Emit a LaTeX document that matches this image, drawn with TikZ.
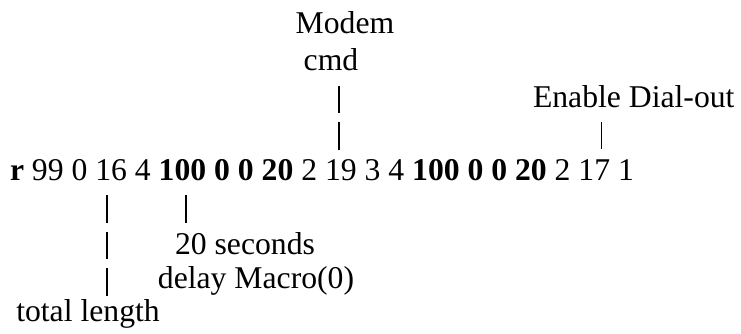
\documentclass[tikz,border=0pt]{standalone}
\usepackage{fontspec}
\setmainfont{Liberation Serif}
\usetikzlibrary{positioning}
\begin{document}
\fontsize{31.8}{36}\selectfont
\begin{tikzpicture}[x=1bp,y=-1bp,line cap=butt]
\tikzset{word/.style={inner sep=0pt,outer sep=0pt},
	pipe/.style={line width=1.4bp,dash pattern=on 27.5bp off 9bp},
	thick pipe/.style={pipe,line width=2bp}}
\useasboundingbox (0,0) rectangle (741,333);
\node[word,anchor=base west] (head) at (10,180) {\textbf{r} 99 0};
\node[word,base right=0.25em of head] (len) {16};
\node[word,base right=0.25em of len] (four) {4};
\node[word,base right=0.25em of four] (delay) {\textbf{100}};
\node[word,base right=0.25em of delay] (mid) {\textbf{0 0 20} 2};
\node[word,base right=0.25em of mid] (modem) {19};
\node[word,base right=0.25em of modem] (rest) {3 4 \textbf{100 0 0 20} 2};
\node[word,base right=0.25em of rest] (dial) {17};
\node[word,base right=0.25em of dial] (tail) {1};
\node[word,anchor=base] (modemtxt) at (345,33) {Modem};
\node[word,anchor=base] (cmd) at (331,70) {cmd};
\node[word,anchor=base west] (dialout) at (533,107) {Enable Dial-out};
\node[word,anchor=base] (secs) at (245,254) {20 seconds};
\node[word,anchor=base] (macro) at (256,288) {delay Macro(0)};
\node[word,anchor=base] (total) at (88,321) {total length};
\draw[pipe,shorten <=9.5bp,shorten >=15bp] ([xshift=-2bp]modem.north) -- ([xshift=-2bp]modem.north |- cmd.south);
\draw[pipe,shorten <=10.5bp,shorten >=15bp] ([xshift=7bp]dial.north) -- ([xshift=7bp]dial.north |- dialout.south);
\draw[thick pipe,shorten <=15bp,shorten >=2bp] ([xshift=-4bp]len.south) -- ([xshift=-4bp]len.south |- total.north);
\draw[thick pipe,shorten <=15bp,shorten >=9.5bp] ([xshift=4bp]delay.south) -- ([xshift=4bp]delay.south |- secs.north);
\end{tikzpicture}
\end{document}
